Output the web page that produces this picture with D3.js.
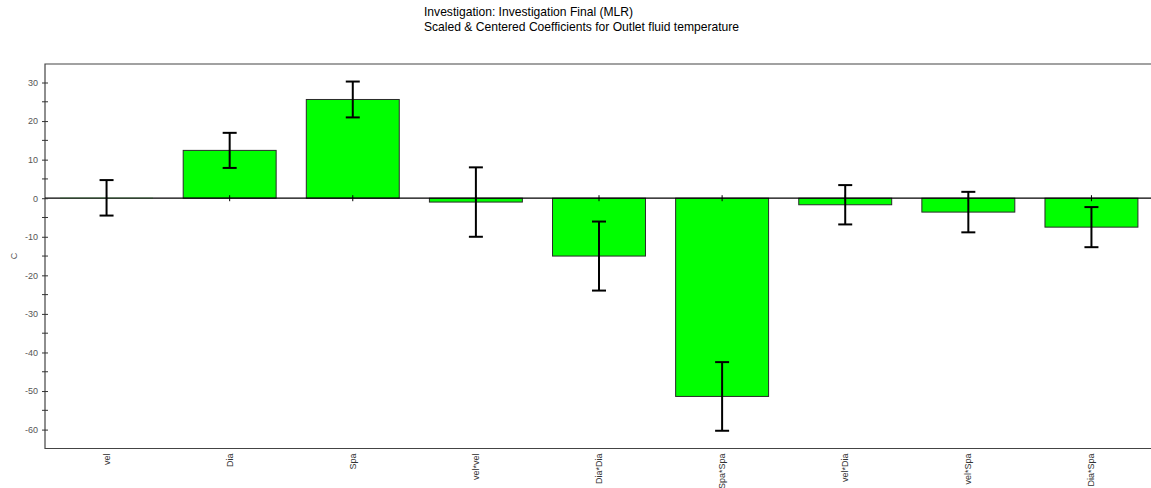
<!DOCTYPE html>
<html>
<head>
<meta charset="utf-8">
<script src="https://cdn.jsdelivr.net/npm/d3@7/dist/d3.min.js"></script>
<style>
  html, body { margin: 0; padding: 0; background: #fff; }
  svg { display: block; font-family: "Liberation Sans", Arial, sans-serif; }
</style>
</head>
<body>
<svg id="chart" width="1151" height="488"></svg>
<script>
// Model terms
const terms = ["vel", "Dia", "Spa", "vel*vel", "Dia*Dia", "Spa*Spa", "vel*Dia", "vel*Spa", "Dia*Spa"];
// Scaled & centered coefficients
const coefficients = [0.1, 12.4, 25.6, -1.0, -15.0, -51.4, -1.7, -3.6, -7.5];
// Confidence interval half-widths
const confidence = [4.6, 4.55, 4.65, 9.0, 8.95, 8.9, 5.1, 5.25, 5.2];
// Y axis ticks
const majorTicks = [30, 20, 10, 0, -10, -20, -30, -40, -50, -60];
const minorTicks = [25, 15, 5, -5, -15, -25, -35, -45, -55];

const titleLines = ["Investigation: Investigation Final (MLR)",
                    "Scaled & Centered Coefficients for Outlet fluid temperature"];

const svg = d3.select("#chart");
const plotLeft = 45, plotRight = 1153, plotTop = 64, plotBottom = 448.5;

const x = d3.scaleBand().domain(terms).range([plotLeft, plotRight])
  .paddingInner(0.245).paddingOuter(0.1225);
const y = d3.scaleLinear().domain([-64.9, 34.8]).range([plotBottom, plotTop]);

// Title
const title = svg.append("text").attr("x", 424).attr("y", 16)
  .attr("font-size", 12.1).attr("fill", "#000");
titleLines.forEach((t, i) => {
  title.append("tspan").attr("x", 424).attr("dy", i === 0 ? 0 : 15).text(t);
});

// Plot frame
svg.append("path")
  .attr("d", `M${plotRight},${plotTop}H${plotLeft}V${plotBottom}H${plotRight}`)
  .attr("fill", "none").attr("stroke", "#444").attr("stroke-width", 1.2);

// Bars (bars thinner than a pixel are not outlined)
svg.append("g").selectAll("rect").data(terms).join("rect")
  .attr("x", d => x(d))
  .attr("width", x.bandwidth())
  .attr("y", (d, i) => y(Math.max(0, coefficients[i])))
  .attr("height", (d, i) => Math.abs(y(coefficients[i]) - y(0)))
  .attr("fill", "#00ff00")
  .attr("stroke", (d, i) => Math.abs(y(coefficients[i]) - y(0)) < 1 ? "none" : "#2a2a2a")
  .attr("stroke-width", 1);

// Zero line
svg.append("line")
  .attr("x1", plotLeft).attr("x2", plotRight)
  .attr("y1", y(0)).attr("y2", y(0))
  .attr("stroke", "#000").attr("stroke-width", 1.2);

// Category ticks on the zero line
svg.append("g").selectAll("line").data(terms).join("line")
  .attr("x1", d => x(d) + x.bandwidth() / 2)
  .attr("x2", d => x(d) + x.bandwidth() / 2)
  .attr("y1", y(0) - 3).attr("y2", y(0) + 3)
  .attr("stroke", "#000").attr("stroke-width", 1);

// Error bars
const eb = svg.append("g").attr("stroke", "#000").attr("stroke-width", 2);
terms.forEach((t, i) => {
  const cx = x(t) + x.bandwidth() / 2;
  const hi = y(coefficients[i] + confidence[i]);
  const lo = y(coefficients[i] - confidence[i]);
  eb.append("line").attr("x1", cx).attr("x2", cx).attr("y1", hi).attr("y2", lo);
  eb.append("line").attr("x1", cx - 7).attr("x2", cx + 7).attr("y1", hi).attr("y2", hi);
  eb.append("line").attr("x1", cx - 7).attr("x2", cx + 7).attr("y1", lo).attr("y2", lo);
});

// Y axis
const yAxis = d3.axisLeft(y).tickValues(majorTicks).tickSize(3).tickPadding(4)
  .tickFormat(d => String(d));
const gy = svg.append("g").attr("transform", `translate(${plotLeft},0)`).call(yAxis);
gy.select(".domain").remove();
gy.selectAll(".tick line").attr("x2", 3).attr("x1", -3).attr("stroke", "#333");
gy.selectAll(".tick text").attr("font-size", 9).attr("fill", "#555")
  .attr("font-family", "Liberation Sans, Arial, sans-serif");
svg.append("g").selectAll("line").data(minorTicks).join("line")
  .attr("x1", plotLeft - 3).attr("x2", plotLeft + 3)
  .attr("y1", d => y(d)).attr("y2", d => y(d))
  .attr("stroke", "#333");

// Y axis title
svg.append("text")
  .attr("transform", `translate(17,${y(-15)}) rotate(-90)`)
  .attr("text-anchor", "middle").attr("font-size", 9).attr("fill", "#555")
  .text("C");

// X tick labels (vertical)
svg.append("g").selectAll("text").data(terms).join("text")
  .attr("transform", d => `translate(${x(d) + x.bandwidth() / 2 + 3},${plotBottom + 5}) rotate(-90)`)
  .attr("text-anchor", "end").attr("font-size", 9).attr("fill", "#333")
  .text(d => d);
</script>
</body>
</html>
